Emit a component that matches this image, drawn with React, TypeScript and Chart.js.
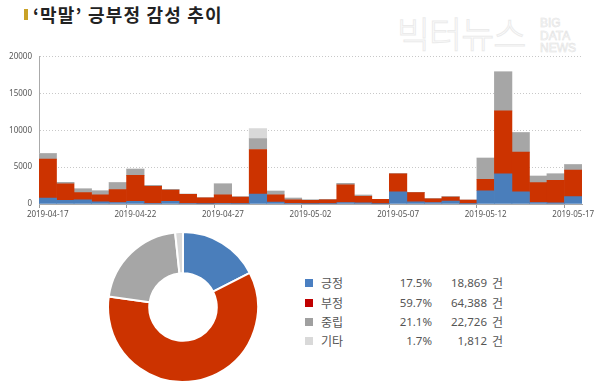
import React, { useEffect, useRef } from "react";
import { Chart, registerables } from "chart.js";

Chart.register(...registerables);

const dates = [
  "2019-04-17", "2019-04-18", "2019-04-19", "2019-04-20", "2019-04-21", "2019-04-22",
  "2019-04-23", "2019-04-24", "2019-04-25", "2019-04-26", "2019-04-27", "2019-04-28",
  "2019-04-29", "2019-04-30", "2019-05-01", "2019-05-02", "2019-05-03", "2019-05-04",
  "2019-05-05", "2019-05-06", "2019-05-07", "2019-05-08", "2019-05-09", "2019-05-10",
  "2019-05-11", "2019-05-12", "2019-05-13", "2019-05-14", "2019-05-15", "2019-05-16",
  "2019-05-17",
];

const positive = [800, 500, 550, 300, 200, 350, 100, 350, 100, 50, 100, 80, 1350, 250, 100, 50, 80, 200, 150, 50, 1650, 300, 200, 400, 80, 1800, 4100, 1650, 200, 150, 1000];
const negative = [5300, 2250, 1000, 950, 1750, 3550, 2300, 1550, 1200, 800, 1150, 850, 6050, 1000, 450, 450, 500, 2400, 900, 600, 2450, 1250, 500, 550, 450, 1550, 8550, 5400, 2700, 3050, 3600];
const neutral = [750, 200, 500, 550, 950, 850, 150, 100, 60, 0, 1500, 60, 1500, 500, 250, 50, 50, 200, 150, 0, 50, 50, 50, 50, 0, 2900, 5300, 2650, 900, 900, 750];
const other = [50, 0, 0, 0, 0, 0, 0, 0, 0, 0, 0, 0, 1350, 0, 0, 0, 0, 0, 0, 0, 0, 0, 0, 0, 0, 0, 0, 0, 0, 0, 0];

const yTicks = [0, 5000, 10000, 15000, 20000];

const sentimentLabels = ["긍정", "부정", "중립", "기타"];
const sentimentTotals = [18869, 64388, 22726, 1812];
const sentimentPercents = ["17.5%", "59.7%", "21.1%", "1.7%"];
const sentimentCounts = ["18,869", "64,388", "22,726", "1,812"];

const barColors = ["#4a7ebb", "#cc3300", "#a6a6a6", "#d9d9d9"];
const legendColors = ["#4a7fc1", "#c00000", "#a0a0a0", "#d9d9d9"];

const FONT = "'Noto Sans', 'Noto Sans CJK KR', sans-serif";

export default function App() {
  const barRef = useRef<HTMLCanvasElement | null>(null);
  const pieRef = useRef<HTMLCanvasElement | null>(null);

  useEffect(() => {
    const series = [positive, negative, neutral, other];
    const bar = new Chart(barRef.current!, {
      type: "bar",
      data: {
        labels: dates,
        datasets: series.map((d, i) => ({
          label: sentimentLabels[i],
          data: d,
          backgroundColor: barColors[i],
          borderWidth: 0,
          barPercentage: 1,
          categoryPercentage: 1,
        })),
      },
      options: {
        responsive: false,
        animation: false,
        layout: { padding: { top: 9, right: 18, left: 0, bottom: 0 } },
        plugins: { legend: { display: false }, tooltip: { enabled: false } },
        scales: {
          x: {
            stacked: true,
            offset: true,
            afterFit: (s: any) => { s.height = 19; },
            grid: {
              offset: true,
              drawOnChartArea: false,
              color: "rgba(0,0,0,0)",
              tickColor: (ctx: any) => (ctx.index % 5 === 0 ? "#999" : "rgba(0,0,0,0)"),
              tickLength: 4,
            },
            border: { display: true, color: "#aaa" },
            ticks: {
              autoSkip: false,
              maxRotation: 0,
              padding: 2,
              color: "#555",
              font: { family: FONT, size: 8 },
              callback: (_v: any, i: number) => (i % 5 === 0 ? dates[i] : ""),
            },
          },
          y: {
            stacked: true,
            min: yTicks[0],
            max: yTicks[yTicks.length - 1],
            afterFit: (s: any) => { s.width = 39; },
            afterBuildTicks: (s: any) => { s.ticks = yTicks.map((v) => ({ value: v })); },
            grid: {
              drawTicks: false,
              color: (ctx: any) => (ctx.tick && ctx.tick.value === 0 ? "rgba(0,0,0,0)" : "#c8c8c8"),
            },
            border: { display: true, color: "#aaa", dash: [1, 2] },
            ticks: {
              padding: 7,
              color: "#555",
              font: { family: FONT, size: 8 },
              callback: (v: any) => String(v),
            },
          },
        },
      },
    });

    const pie = new Chart(pieRef.current!, {
      type: "doughnut",
      data: {
        labels: sentimentLabels,
        datasets: [
          {
            data: sentimentTotals,
            backgroundColor: barColors,
            borderColor: "#ffffff",
            borderWidth: 2,
            hoverBorderWidth: 2,
          },
        ],
      },
      options: {
        responsive: false,
        animation: false,
        cutout: "45%",
        layout: { padding: 0 },
        plugins: { legend: { display: false }, tooltip: { enabled: false } },
      },
    });

    return () => {
      bar.destroy();
      pie.destroy();
    };
  }, []);

  const rowY = [283.3, 302.5, 321.5, 340.7];

  return (
    <div
      style={{
        position: "absolute",
        left: 0,
        top: 0,
        width: 600,
        height: 389,
        background: "#fff",
        overflow: "hidden",
        fontFamily: FONT,
      }}
    >
      <div style={{ position: "absolute", left: 24, top: 9, width: 4, height: 11, background: "#c9a227" }} />
      <div
        style={{
          position: "absolute",
          left: 33,
          top: 2,
          fontFamily: "'Noto Sans CJK KR', sans-serif",
          fontWeight: 700,
          fontSize: 18,
          letterSpacing: 1.2,
          color: "#222",
          whiteSpace: "nowrap",
          lineHeight: "24px",
        }}
      >
        ‘막말’ 긍부정 감성 추이
      </div>

      <div
        style={{
          position: "absolute",
          left: 397,
          top: 10,
          fontFamily: "'Noto Sans CJK KR', sans-serif",
          fontWeight: 300,
          fontSize: 36,
          lineHeight: "44px",
          color: "#fff",
          WebkitTextStroke: "1px #ebebeb",
          whiteSpace: "nowrap",
          letterSpacing: -1,
        }}
      >
        빅터뉴스
      </div>
      <div
        style={{
          position: "absolute",
          left: 540,
          top: 17,
          fontFamily: "'Liberation Sans', sans-serif",
          fontSize: 12,
          lineHeight: "12.5px",
          color: "#fff",
          WebkitTextStroke: "0.6px #e2e2e2",
          whiteSpace: "nowrap",
        }}
      >
        BIG
        <br />
        DATA
        <br />
        NEWS
      </div>

      <canvas
        ref={barRef}
        width={600}
        height={178}
        style={{ position: "absolute", left: 0, top: 45, width: 600, height: 178 }}
      />

      <canvas
        ref={pieRef}
        width={152}
        height={152}
        style={{ position: "absolute", left: 107, top: 231, width: 152, height: 152 }}
      />

      {sentimentLabels.map((lab, i) => (
        <React.Fragment key={lab}>
          <div
            style={{
              position: "absolute",
              left: 305,
              top: rowY[i] - 4,
              width: 8,
              height: 8,
              background: legendColors[i],
            }}
          />
          <div
            style={{
              position: "absolute",
              left: 321,
              top: rowY[i] - 9,
              height: 18,
              lineHeight: "18px",
              fontSize: 12,
              color: "#555",
              fontFamily: "'Noto Sans CJK KR', sans-serif",
            }}
          >
            {lab}
          </div>
          <div
            style={{
              position: "absolute",
              right: 600 - 432,
              top: rowY[i] - 9,
              height: 18,
              lineHeight: "18px",
              fontSize: 11.5,
              color: "#555",
              textAlign: "right",
            }}
          >
            {sentimentPercents[i]}
          </div>
          <div
            style={{
              position: "absolute",
              right: 600 - 487,
              top: rowY[i] - 9,
              height: 18,
              lineHeight: "18px",
              fontSize: 11.5,
              color: "#555",
              textAlign: "right",
            }}
          >
            {sentimentCounts[i]}
          </div>
          <div
            style={{
              position: "absolute",
              left: 492,
              top: rowY[i] - 9,
              height: 18,
              lineHeight: "18px",
              fontSize: 12,
              color: "#555",
              fontFamily: "'Noto Sans CJK KR', sans-serif",
            }}
          >
            건
          </div>
        </React.Fragment>
      ))}
    </div>
  );
}
